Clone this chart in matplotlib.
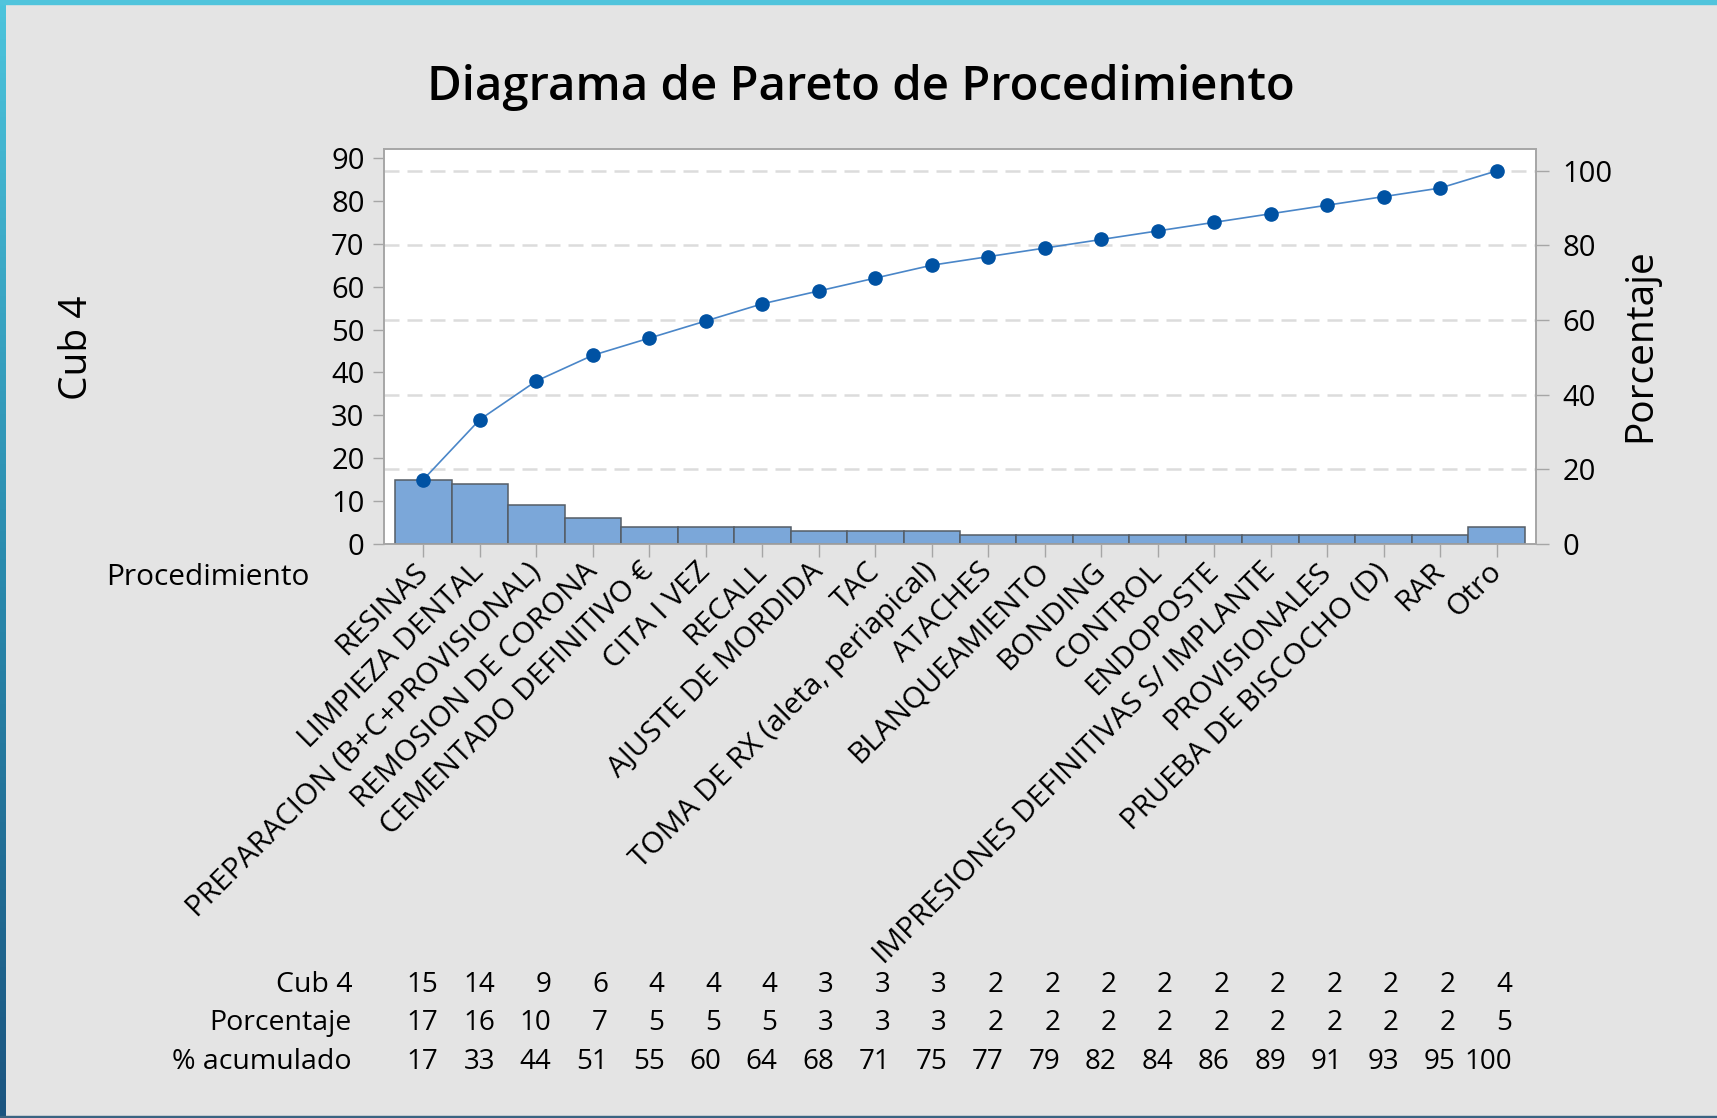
import numpy as np
import matplotlib
matplotlib.use('Agg')
import matplotlib.pyplot as plt
from matplotlib.patches import Rectangle
from matplotlib.colors import LinearSegmentedColormap
from matplotlib.transforms import blended_transform_factory

# data
categories = ["RESINAS", "LIMPIEZA DENTAL", "PREPARACION (B+C+PROVISIONAL)",
              "REMOSION DE CORONA", "CEMENTADO DEFINITIVO €", "CITA I VEZ",
              "RECALL", "AJUSTE DE MORDIDA", "TAC", "TOMA DE RX (aleta, periapical)",
              "ATACHES", "BLANQUEAMIENTO", "BONDING", "CONTROL", "ENDOPOSTE",
              "IMPRESIONES DEFINITIVAS S/ IMPLANTE", "PROVISIONALES",
              "PRUEBA DE BISCOCHO (D)", "RAR", "Otro"]
counts = [15, 14, 9, 6, 4, 4, 4, 3, 3, 3, 2, 2, 2, 2, 2, 2, 2, 2, 2, 4]
percent = [17, 16, 10, 7, 5, 5, 5, 3, 3, 3, 2, 2, 2, 2, 2, 2, 2, 2, 2, 5]
cum_percent = [17, 33, 44, 51, 55, 60, 64, 68, 71, 75, 77, 79, 82, 84, 86, 89, 91, 93, 95, 100]
count_ticks = list(range(0, 91, 10))
pct_ticks = [0, 20, 40, 60, 80, 100]

plt.rcParams['font.family'] = ['Open Sans', 'DejaVu Sans']
plt.rcParams['font.weight'] = 'medium'

W, H = 1717, 1118
fig = plt.figure(figsize=(W / 100, H / 100), dpi=100, facecolor='#e4e4e4')

# window-ish border
grad = fig.add_axes([0, 0, 5 / W, 1])
cmap = LinearSegmentedColormap.from_list('b', ['#4cc4dc', '#2a8bae', '#1b5580'])
grad.imshow(np.linspace(0, 1, 200).reshape(-1, 1), aspect='auto', cmap=cmap)
grad.axis('off')
fig.patches.append(Rectangle((0, 1 - 4 / H), 1, 4 / H, transform=fig.transFigure,
                             color='#50c4dc', zorder=5))
fig.patches.append(Rectangle((0, 0), 1, 2 / H, transform=fig.transFigure,
                             color='#3a6482', zorder=5))

ax = fig.add_axes([384 / W, 1 - 544 / H, 1152 / W, 395 / H])
ax.set_facecolor('white')
x = np.arange(len(counts))
total = sum(counts)
ymax = 92.1

ax.bar(x, counts, width=1.0, color='#7ba7d9', edgecolor='#555d66', linewidth=1.1, zorder=2)
ax.set_xlim(-0.695, len(counts) - 1 + 0.695)
ax.set_ylim(0, ymax)
ax.set_yticks(count_ticks)
ax.set_xticks(x)
ax.set_xticklabels(categories, rotation=45, ha='right', va='center',
                   rotation_mode='anchor', fontsize=21.5)

ax2 = ax.twinx()
ax2.set_ylim(0, ymax / total * 100)
ax2.set_yticks(pct_ticks)
ax2.yaxis.grid(True, linestyle=(0, (6, 3.2)), color='#dcdcdc', linewidth=1.8)
# cumulative line drawn on the count scale (same as the % scale on the right)
ax.plot(x, np.cumsum(counts), color='#4a86c8', lw=1.2, marker='o', ms=9.5,
        mfc='#0052a3', mec='#0052a3', zorder=4)
ax.set_zorder(2)
ax.patch.set_visible(False)
ax2.set_zorder(1)
ax2.patch.set_visible(True)
ax2.patch.set_facecolor('white')

for a in (ax, ax2):
    for s in a.spines.values():
        s.set_color('#a6a6a6')
        s.set_linewidth(1.2)
ax.tick_params(axis='y', length=8, width=1, color='#a6a6a6', pad=6, labelsize=21)
ax.tick_params(axis='x', length=9, width=1, color='#a6a6a6', pad=8)
ax2.tick_params(axis='y', length=9, width=1, color='#a6a6a6', pad=10, labelsize=21)

fig.text(861 / W, 1 - 100 / H, "Diagrama de Pareto de Procedimiento", ha='center',
         va='baseline', fontsize=34, fontweight='semibold')
fig.text(77 / W, 1 - 348 / H, "Cub 4", rotation=90, ha='center', va='center', fontsize=28)
fig.text(1640 / W, 1 - 345 / H, "Porcentaje", rotation=90, ha='center', va='center', fontsize=28)
fig.text(309 / W, 1 - 585 / H, "Procedimiento", ha='right', va='baseline', fontsize=21.5)

# table under the chart
tr = blended_transform_factory(ax.transData, fig.transFigure)
rows = [("Cub 4", counts, 992), ("Porcentaje", percent, 1030), ("% acumulado", cum_percent, 1069)]
for name, vals, yb in rows:
    fig.text(352 / W, 1 - yb / H, name, ha='right', va='baseline', fontsize=20.5)
    for i, v in enumerate(vals):
        ax.text(i + 0.27, 1 - yb / H, str(v), transform=tr, ha='right', va='baseline', fontsize=20)

fig.savefig('out.png', dpi=100, facecolor=fig.get_facecolor())
